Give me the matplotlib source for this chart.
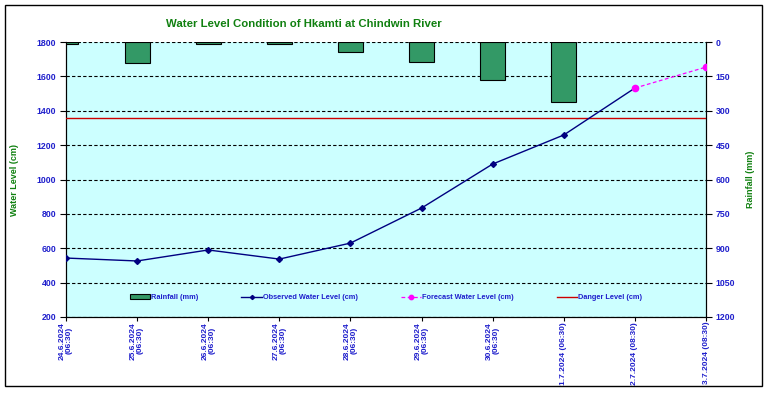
import matplotlib
matplotlib.use("Agg")
import matplotlib.pyplot as plt
from matplotlib.patches import Rectangle
import numpy as np

plt.rcParams['font.family'] = ['Liberation Sans', 'DejaVu Sans']

# data
dates = ["24.6.2024\n(06:30)", "25.6.2024\n(06:30)", "26.6.2024\n(06:30)",
         "27.6.2024\n(06:30)", "28.6.2024\n(06:30)", "29.6.2024\n(06:30)",
         "30.6.2024\n(06:30)", "1.7.2024 (06:30)", "2.7.2024 (08:30)",
         "3.7.2024 (08:30)"]
rainfall = [10, 93, 9, 9, 45, 89, 167, 262]
observed = [543, 526, 590, 537, 630, 834, 1090, 1259, 1532]
forecast_idx = [8, 9]
forecast = [1532, 1654]
danger_level = 1360

blue = "#1F1FCC"
green = "#108010"

fig = plt.figure(figsize=(7.69, 3.93), dpi=100)
# chart area border
fig.patches.append(Rectangle((5/769, 1 - 386/393), 757/769, 381/393,
                             transform=fig.transFigure, fill=False,
                             edgecolor="black", linewidth=1.0))

ax2 = fig.add_axes([66/769, 1 - 317/393, 640/769, 275/393])
ax = ax2.twinx()
ax.yaxis.tick_left()
ax.yaxis.set_label_position("left")
ax2.yaxis.tick_right()
ax2.yaxis.set_label_position("right")

x = np.arange(len(dates))

# rainfall bars (right axis, inverted)
ax2.set_facecolor("#CCFFFF")
ax2.bar(x[:len(rainfall)], rainfall, width=0.35, color="#339966",
        edgecolor="black", linewidth=0.8, zorder=3, label="Rainfall (mm)")
ax2.set_ylim(1200, 0)
ax2.set_yticks(np.arange(0, 1201, 150))
ax2.grid(axis="y", color="black", linestyle=(0, (3, 2)), linewidth=0.8, zorder=1)
ax2.set_xlim(0, 9)

# water levels (left axis)
ax.plot(x[:len(observed)], observed, color="#000080", marker="D", markersize=3,
        linewidth=1.0, label="Observed Water Level (cm)", zorder=5)
ax.plot(forecast_idx, forecast, color="#FF00FF", linestyle=(0, (3, 2)),
        marker="o", markersize=4.5, linewidth=0.9,
        label="Forecast Water Level (cm)", zorder=5)
ax.axhline(danger_level, color="#CC0000", linewidth=1.0,
           label="Danger Level (cm)", zorder=4)
ax.set_ylim(200, 1800)
ax.set_yticks(np.arange(200, 1801, 200))
ax.set_xlim(0, 9)

ax2.set_xticks(x)
ax2.set_xticklabels(dates, rotation=90, fontsize=6.0, fontweight="bold",
                    color=blue, linespacing=1.0, ha="center", va="top")

for a in (ax, ax2):
    for lab in a.get_yticklabels():
        lab.set_fontsize(6.3)
        lab.set_fontweight("bold")
        lab.set_color(blue)
    a.tick_params(axis="y", length=4, width=0.8, pad=3)
    a.spines["top"].set_visible(False)
ax2.tick_params(axis="x", length=3, width=0.8, pad=0.5)

ax.set_ylabel("Water Level (cm)", fontsize=6.5, fontweight="bold", color=green)
ax.yaxis.set_label_coords(-47/640, 0.5)
ax2.set_ylabel("Rainfall (mm)", fontsize=6.5, fontweight="bold", color=green)
ax2.yaxis.set_label_coords(1 + 40/640, 0.5)

fig.text(304/769, 1 - 24/393, "Water Level Condition of Hkamti at Chindwin River",
         ha="center", va="center", fontsize=8.2, fontweight="bold", color=green)

h1, l1 = ax2.get_legend_handles_labels()
h2, l2 = ax.get_legend_handles_labels()
leg = ax.legend(h1 + h2, l1 + l2, loc="center", bbox_to_anchor=(0.5, 0.07),
                ncol=4, frameon=False, handlelength=2.8, handleheight=0.6,
                columnspacing=5.8, handletextpad=0.15, markerscale=0.7,
                prop={"size": 5.3, "weight": "bold"})
for t in leg.get_texts():
    t.set_color(blue)

fig.savefig("out.png", dpi=100)
